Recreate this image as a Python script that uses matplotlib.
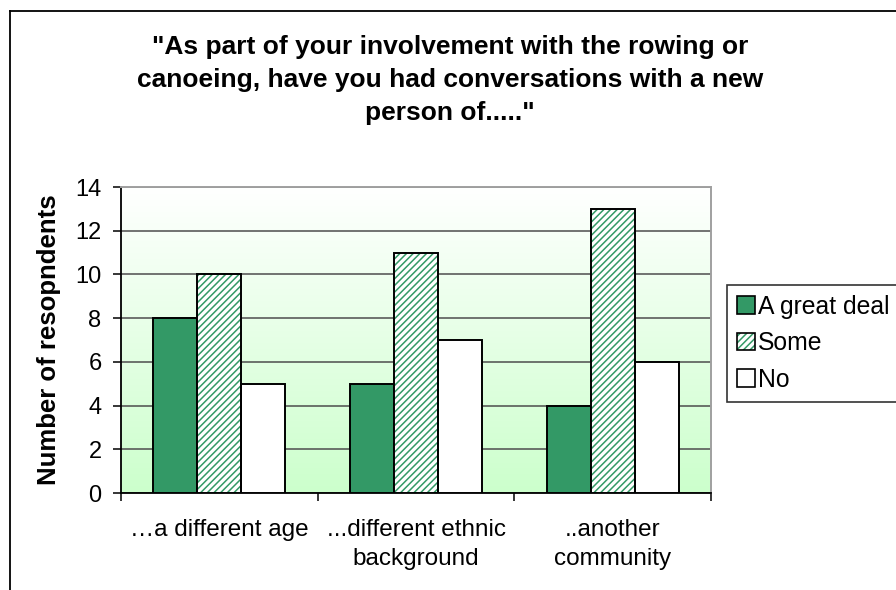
import numpy as np
import matplotlib
matplotlib.use("Agg")
import matplotlib.pyplot as plt
from matplotlib.patches import Patch
from matplotlib.lines import Line2D
from matplotlib.legend_handler import HandlerTuple

categories = ["\u2026a different age", "...different ethnic\nbackground", "..another\ncommunity"]
series_names = ["A great deal", "Some", "No"]
great_deal = [8, 5, 4]
some = [10, 11, 13]
no = [5, 7, 6]
yticks = [0, 2, 4, 6, 8, 10, 12, 14]

plt.rcParams['font.family'] = ['Liberation Sans', 'DejaVu Sans']
plt.rcParams['hatch.linewidth'] = 1.1

green = '#339966'
fig = plt.figure(figsize=(8.96, 5.90), dpi=100)
ax = fig.add_axes([121 / 896, 97 / 590, 590 / 896, 306 / 590])

# gradient background: white at the top fading into pale green
grad = np.linspace(0, 1, 256)
top_c = np.array([1.0, 1.0, 1.0])
bot_c = np.array([0xCC, 0xFF, 0xCC]) / 255
img = top_c + (bot_c - top_c) * grad[:, None]
ax.imshow(img.reshape(256, 1, 3), extent=[-0.5, 2.5, 0, 14], aspect='auto', origin='upper', zorder=0)

x = np.arange(len(categories))
w = 0.224
ax.bar(x - w, great_deal, w, color=green, edgecolor='black', linewidth=1.4, zorder=3)
ax.bar(x, some, w, color='white', edgecolor=green, hatch='/////', linewidth=0, zorder=3)
ax.bar(x, some, w, fill=False, edgecolor='black', linewidth=1.4, zorder=4)
ax.bar(x + w, no, w, color='white', edgecolor='black', linewidth=1.4, zorder=3)

ax.set_xlim(-0.5, 2.5)
ax.set_ylim(0, 14)
ax.set_yticks(yticks)
ax.yaxis.grid(True, color='#4d4d4d', linewidth=1.1, zorder=1)
ax.set_axisbelow(True)
ax.set_xticks([-0.5, 0.5, 1.5, 2.5])
ax.set_xticklabels([])
ax.set_xticks(x, minor=True)
ax.set_xticklabels(categories, minor=True, fontsize=17.5, linespacing=1.36, va='top')
ax.tick_params(axis='x', which='minor', length=0, pad=19)
ax.tick_params(axis='x', which='major', length=6, direction='out', width=1.1)
ax.tick_params(axis='y', length=6, labelsize=17, pad=8, width=1.1)
for s in ['top', 'right']:
    ax.spines[s].set_color('#a0a0a0')
    ax.spines[s].set_linewidth(1.4)
for s in ['left', 'bottom']:
    ax.spines[s].set_color('black')
    ax.spines[s].set_linewidth(1.3)

ax.set_ylabel("Number of resopndents", fontsize=18.5, fontweight='bold', labelpad=10)

fig.text(450 / 896, 1 - 80 / 590,
         "\"As part of your involvement with the rowing or\ncanoeing, have you had conversations with a new\nperson of.....\"",
         ha='center', va='center', fontsize=19, fontweight='bold', linespacing=1.46)

h1 = Patch(facecolor=green, edgecolor='black', linewidth=1.2)
h2 = (Patch(facecolor='white', edgecolor=green, hatch='/////', linewidth=0),
      Patch(fill=False, edgecolor='black', linewidth=1.2))
h3 = Patch(facecolor='white', edgecolor='black', linewidth=1.2)
leg = fig.legend([h1, h2, h3], series_names, loc='upper left',
                 bbox_to_anchor=(727 / 896, 1 - 285 / 590), fontsize=17.8,
                 handler_map={tuple: HandlerTuple(ndivide=1, pad=0)},
                 handlelength=0.72, handleheight=0.72, handletextpad=0.15,
                 labelspacing=0.5, borderpad=0.4, borderaxespad=0, fancybox=False)
leg.get_frame().set_edgecolor('black')
leg.get_frame().set_linewidth(1.2)

# outer chart border (top and left edges visible)
fig.add_artist(Line2D([10 / 896, 10 / 896], [0, 1 - 11 / 590], color='black', linewidth=1.3))
fig.add_artist(Line2D([10 / 896, 1], [1 - 11 / 590, 1 - 11 / 590], color='black', linewidth=1.3))

fig.savefig("out.png", dpi=100)
